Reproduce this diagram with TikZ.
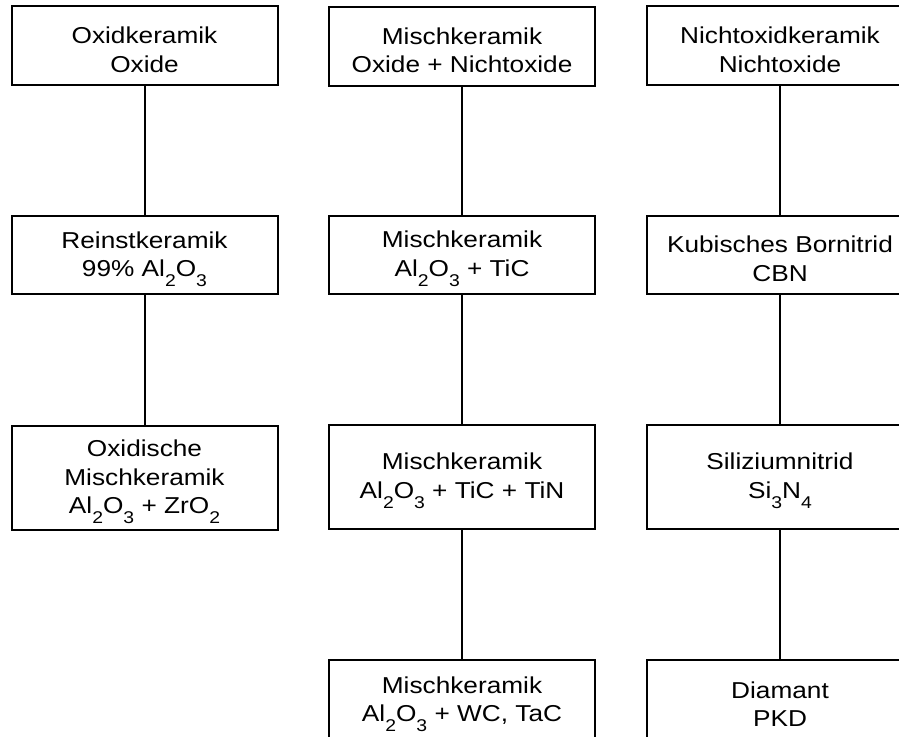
\documentclass[tikz,border=0pt]{standalone}
\usepackage{fontspec}
\setmainfont{Liberation Sans}[FakeStretch=1.14]
\newcommand{\chemsub}[1]{\raisebox{-0.8ex}{\fontsize{17}{17}\selectfont #1}}
\newcommand{\topline}{\rule{0pt}{25pt}}
\begin{document}
\begin{tikzpicture}[x=1pt,y=-1pt,
	box/.style={draw,line width=2pt,minimum width=266pt,minimum height=79pt,
		align=center,inner sep=0pt,font=\fontsize{23}{28.5}\selectfont},
	link/.style={line width=2pt}]

	\clip (0,0) rectangle (899,736);

	\def\colA{144.5}
	\def\colB{462}
	\def\colC{780}

	% Oxidkeramik
	\node[box] (ox1) at (\colA,45.5) {\topline Oxidkeramik\\Oxide};
	\node[box,minimum height=78pt] (ox2) at (\colA,255) {\topline Reinstkeramik\\99\% Al\chemsub{2}O\chemsub{3}};
	\node[box,minimum height=104pt] (ox3) at (\colA,477.5) {\topline Oxidische\\Mischkeramik\\Al\chemsub{2}O\chemsub{3} + ZrO\chemsub{2}};

	% Mischkeramik
	\node[box] (mk1) at (\colB,46) {\topline Mischkeramik\\Oxide + Nichtoxide};
	\node[box,minimum height=78pt] (mk2) at (\colB,254.5) {\topline Mischkeramik\\Al\chemsub{2}O\chemsub{3} + TiC};
	\node[box,minimum height=104pt] (mk3) at (\colB,476.5) {\topline Mischkeramik\\Al\chemsub{2}O\chemsub{3} + TiC + TiN};
	\node[box,minimum height=80pt] (mk4) at (\colB,700) {\topline Mischkeramik\\Al\chemsub{2}O\chemsub{3} + WC, TaC};

	% Nichtoxidkeramik
	\node[box] (nx1) at (\colC,45.5) {\topline Nichtoxidkeramik\\Nichtoxide};
	\node[box,minimum height=78pt] (nx2) at (\colC,254.5) {\topline Kubisches Bornitrid\\CBN};
	\node[box,minimum height=104pt] (nx3) at (\colC,476.5) {\topline Siliziumnitrid\\Si\chemsub{3}N\chemsub{4}};
	\node[box,minimum height=80pt] (nx4) at (\colC,700) {\topline Diamant\\PKD};

	\foreach \a/\b in {ox1/ox2,ox2/ox3,mk1/mk2,mk2/mk3,mk3/mk4,nx1/nx2,nx2/nx3,nx3/nx4} {
		\draw[link] (\a) -- (\b);
	}

\end{tikzpicture}
\end{document}
